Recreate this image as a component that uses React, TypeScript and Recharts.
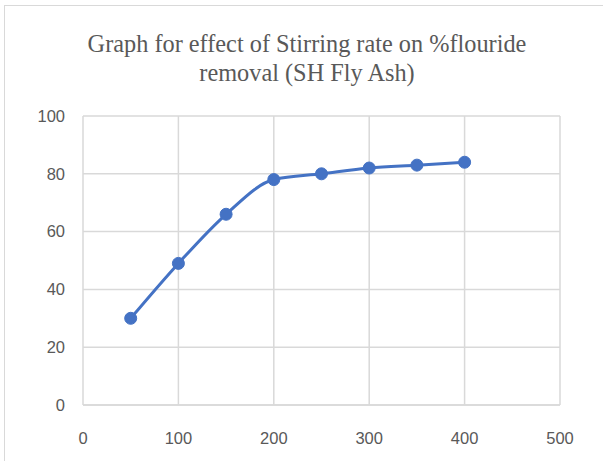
import React from "react";
import { LineChart, Line, XAxis, YAxis, CartesianGrid } from "recharts";

const stirringRates = [50, 100, 150, 200, 250, 300, 350, 400];
const removalPercent = [30, 49, 66, 78, 80, 82, 83, 84];
const xTicks = [0, 100, 200, 300, 400, 500];
const yTicks = [0, 20, 40, 60, 80, 100];
const titleLines = ["Graph for effect of Stirring rate on %flouride", "removal (SH Fly Ash)"];

const data = stirringRates.map((x, i) => ({ x, y: removalPercent[i] }));

export default function App() {
  return (
    <div
      style={{
        position: "absolute",
        left: 0,
        top: 0,
        width: 603,
        height: 461,
        background: "#fff",
        overflow: "hidden",
      }}
    >
      <div
        style={{
          position: "absolute",
          left: 4,
          top: 5,
          width: 640,
          height: 500,
          border: "1.5px solid #d9d9d9",
          boxSizing: "border-box",
        }}
      />
      <div
        style={{
          position: "absolute",
          left: 0,
          top: 28.5,
          width: 614,
          textAlign: "center",
          fontFamily: "'Liberation Serif', serif",
          fontSize: 24.3,
          lineHeight: "29px",
          color: "#595959",
        }}
      >
        {titleLines.map((t) => (
          <div key={t}>{t}</div>
        ))}
      </div>
      <LineChart
        width={603}
        height={461}
        data={data}
        margin={{ top: 116, right: 43, bottom: 0, left: 0 }}
        style={{ position: "absolute", left: 0, top: 0 }}
      >
        <CartesianGrid stroke="#d9d9d9" strokeWidth={1.5} />
        <XAxis
          dataKey="x"
          type="number"
          domain={[0, 500]}
          ticks={xTicks}
          height={56}
          tickSize={0}
          tickMargin={27}
          axisLine={{ stroke: "#d9d9d9", strokeWidth: 1.5 }}
          tick={{ fill: "#595959", fontSize: 16.5, fontFamily: "'Liberation Sans', Arial, sans-serif" }}
        />
        <YAxis
          type="number"
          domain={[0, 100]}
          ticks={yTicks}
          width={83}
          tickSize={0}
          tickMargin={18}
          axisLine={false}
          tick={{ fill: "#595959", fontSize: 16.5, fontFamily: "'Liberation Sans', Arial, sans-serif" }}
        />
        <Line
          dataKey="y"
          type="monotone"
          stroke="#4472C4"
          strokeWidth={3}
          dot={{ r: 6, fill: "#4472C4", stroke: "#4472C4", strokeWidth: 1 }}
          isAnimationActive={false}
        />
      </LineChart>
    </div>
  );
}
